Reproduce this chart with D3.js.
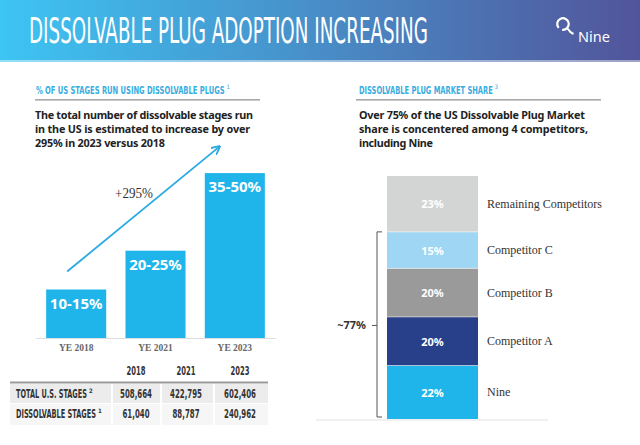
<!DOCTYPE html>
<html><head><meta charset="utf-8">
<script src="https://cdn.jsdelivr.net/npm/d3@7"></script>
<style>
html,body{margin:0;padding:0;background:#fff;}
svg{display:block;}
.cond{font-family:"DejaVu Sans Condensed","Liberation Sans Narrow","Roboto",sans-serif;font-stretch:condensed;}
.serif{font-family:"Liberation Serif","DejaVu Serif",serif;}
.sans{font-family:"Noto Sans","Lato",sans-serif;}
</style>
</head><body>
<script>
// ---- data ----
const title = "DISSOLVABLE PLUG ADOPTION INCREASING";
const leftHeading = "% OF US STAGES RUN USING DISSOLVABLE PLUGS";
const leftText = ["The total number of dissolvable stages run","in the US is estimated to increase by over","295% in 2023 versus 2018"];
const rightHeading = "DISSOLVABLE PLUG MARKET SHARE";
const rightText = ["Over 75% of the US Dissolvable Plug Market","share is concentered among 4 competitors,","including Nine"];

const barCategories = ["YE 2018","YE 2021","YE 2023"];
const barValues = [12.5, 22.5, 42.5];
const barLabels = ["10-15%","20-25%","35-50%"];
const growthLabel = "+295%";

const tableYears = ["2018","2021","2023"];
const tableRows = ["TOTAL U.S. STAGES","DISSOLVABLE STAGES"];
const tableRowSup = ["2","1"];
const totalStages = [508664, 422795, 602406];
const dissolvableStages = [61040, 88787, 240962];

const shareNames = ["Nine","Competitor A","Competitor B","Competitor C","Remaining Competitors"];
const shareValues = [22, 20, 20, 15, 23];
const shareColors = ["#20b5ea","#283f8a","#9a9a9a","#9fd6f3","#d3d4d4"];
const bracketLabel = "~77%";

// ---- layout ----
const W = 640, H = 445;
const svg = d3.select("body").append("svg").attr("width", W).attr("height", H);
const defs = svg.append("defs");

// draws a text squeezed horizontally to a target width
function fitText(parent, px, py, str, width, attrs){
  const t = parent.append("text").attr("x",0).attr("y",0);
  Object.entries(attrs).forEach(([k,v])=>t.attr(k,v));
  t.text(str);
  const w = t.node().getComputedTextLength() || width;
  t.attr("transform",`translate(${px},${py}) scale(${width/w},1)`);
  return t;
}

const grad = defs.append("linearGradient").attr("id","hdr").attr("x1","0").attr("x2","1").attr("y1","0").attr("y2","0");
grad.append("stop").attr("offset","0%").attr("stop-color","#3dc5f3");
grad.append("stop").attr("offset","45%").attr("stop-color","#4793cc");
grad.append("stop").attr("offset","100%").attr("stop-color","#52549a");

svg.append("rect").attr("x",0).attr("y",0).attr("width",W).attr("height",60).attr("fill","url(#hdr)");
svg.append("rect").attr("x",0).attr("y",60).attr("width",W).attr("height",2).attr("fill","url(#hdr)").attr("opacity",0.55);

fitText(svg, 29, 43, title, 399, {"class":"cond","font-size":35,"fill":"#fff"});

// logo
const logo = svg.append("g").attr("transform","translate(563,24)");
logo.append("path").attr("d", d3.arc()({innerRadius:4.7, outerRadius:6.9, startAngle:-2.3, endAngle:3.3}))
  .attr("fill","#fff");
logo.append("path").attr("d","M4.6,4.4 Q7,8.5 10.5,10").attr("stroke","#fff").attr("stroke-width",2).attr("fill","none");
svg.append("text").attr("class","sans").attr("x",578).attr("y",42).attr("font-size",14.5).attr("fill","#fff").text("Nine");

// section headings
function heading(x, y, txt, len, sup, ruleX1, ruleX2){
  fitText(svg, x, y, txt, len, {"class":"cond","font-size":10.5,"fill":"#39ade0","font-weight":"bold"});
  svg.append("text").attr("class","cond").attr("x",x+len+1.5).attr("y",y-5).attr("font-size",6).attr("fill","#39ade0").text(sup);
  svg.append("rect").attr("x",ruleX1).attr("y",99).attr("width",ruleX2-ruleX1).attr("height",1.6).attr("fill","#a8a8a8");
}
heading(36, 94, leftHeading, 189, "1", 35, 260);
heading(359, 94, rightHeading, 134, "3", 356, 601);

function para(x, lines, lens){
  lines.forEach((l,i)=>{
    svg.append("text").attr("class","sans").attr("x",x).attr("y",119+i*14)
      .attr("font-size",10.8).attr("font-weight","bold").attr("fill","#222")
      .attr("textLength",lens[i]).attr("lengthAdjust","spacing").text(l);
  });
}
para(35, leftText, [218,215,130]);
para(359, rightText, [226,229,74]);

// ---- bar chart ----
const x = d3.scaleBand().domain(barCategories).range([36,275]).paddingInner(0.243).paddingOuter(0.128);
const y = d3.scaleLinear().domain([0,50]).range([338,144]);

const gx = svg.append("g").attr("transform","translate(0,338)")
  .call(d3.axisBottom(x).tickSize(0).tickPadding(6).tickSizeOuter(0));
gx.select(".domain").attr("stroke","#dcdcdc");
gx.selectAll("text").attr("class","serif").attr("font-size",9.5).attr("fill","#666").attr("font-family",null).attr("font-weight","bold");

svg.selectAll(".bar").data(barValues).join("rect").attr("class","bar")
  .attr("x",(d,i)=>x(barCategories[i])).attr("width",x.bandwidth())
  .attr("y",d=>y(d)).attr("height",d=>y(0)-y(d)).attr("fill","#20b5ea");
svg.selectAll(".barlbl").data(barValues).join("text").attr("class","barlbl sans")
  .attr("x",(d,i)=>x(barCategories[i])+x.bandwidth()/2).attr("y",d=>y(d)+19)
  .attr("text-anchor","middle").attr("font-size",15).attr("font-weight","bold").attr("fill","#fff")
  .text((d,i)=>barLabels[i]);

// growth arrow
defs.append("marker").attr("id","arr").attr("viewBox","0 0 10 10").attr("refX",8).attr("refY",5)
  .attr("markerWidth",5).attr("markerHeight",5).attr("orient","auto")
  .append("path").attr("d","M0,0 L10,5 L0,10").attr("fill","none").attr("stroke","#2aa9e2").attr("stroke-width",2);
const first = barCategories[0], last = barCategories[barCategories.length-1];
svg.append("line")
  .attr("x1", x(first)+x.bandwidth()*0.35).attr("y1", y(barValues[0])-18)
  .attr("x2", x(last)+14).attr("y2", y(barValues[barValues.length-1])-26)
  .attr("stroke","#2aa9e2").attr("stroke-width",1.8).attr("marker-end","url(#arr)");
fitText(svg, 115, 198, growthLabel, 38, {"class":"serif","font-size":14.5,"fill":"#333"});

// ---- table ----
const colCenters = d3.scaleOrdinal().domain(tableYears).range([136,186,240]);
const colEdges = [[10,111],[113,160],[162,213],[215,268]];
const fmt = d3.format(",");
const numLen = s => s.length >= 7 ? 32 : 27;
tableYears.forEach(yr=>{
  fitText(svg, colCenters(yr), 375, yr, 19, {"class":"cond","font-size":12,"font-weight":"bold","fill":"#333","text-anchor":"middle"});
});
svg.append("rect").attr("x",10).attr("y",381.5).attr("width",258).attr("height",2).attr("fill","#9a9a9a");
const rowY = [384,404], rowH = [19,21], rowFill = ["#ececec","#f6f6f6"];
const rowVals = [totalStages, dissolvableStages];
const rowLabelLen = [71, 80];
tableRows.forEach((r,ri)=>{
  colEdges.forEach(c=>{
    svg.append("rect").attr("x",c[0]).attr("y",rowY[ri]).attr("width",c[1]-c[0]).attr("height",rowH[ri]).attr("fill",rowFill[ri]);
  });
  fitText(svg, 16, rowY[ri]+14, r, rowLabelLen[ri], {"class":"cond","font-size":11.5,"font-weight":"bold","fill":"#333"});
  svg.append("text").attr("class","cond").attr("x",16+rowLabelLen[ri]+2).attr("y",rowY[ri]+8.5)
    .attr("font-size",6).attr("font-weight","bold").attr("fill","#333").text(tableRowSup[ri]);
  tableYears.forEach((yr,ci)=>{
    const str = fmt(rowVals[ri][ci]);
    fitText(svg, colCenters(yr), rowY[ri]+14, str, numLen(str), {"class":"cond","font-size":12,"font-weight":"bold","fill":"#333","text-anchor":"middle"});
  });
});

// ---- stacked share bar ----
const s = d3.scaleLinear().domain([0,100]).range([419,176]);
let cum = 0;
const segs = shareValues.map((v,i)=>{ const o = {name:shareNames[i], v, y0:cum, y1:cum+v, color:shareColors[i]}; cum += v; return o; });
svg.append("line").attr("x1",316).attr("x2",548).attr("y1",420).attr("y2",420).attr("stroke","#e2e2e2").attr("stroke-width",1);
svg.selectAll(".seg").data(segs).join("rect").attr("class","seg")
  .attr("x",387).attr("width",91).attr("y",d=>s(d.y1)).attr("height",d=>s(d.y0)-s(d.y1))
  .attr("fill",d=>d.color);
svg.selectAll(".segline").data(segs.slice(1)).join("line").attr("class","segline")
  .attr("x1",387).attr("x2",478).attr("y1",d=>s(d.y0)).attr("y2",d=>s(d.y0))
  .attr("stroke","#ffffff").attr("stroke-opacity",0.5).attr("stroke-width",1);
svg.selectAll(".seglbl").data(segs).join("text").attr("class","seglbl sans")
  .attr("x",432.5).attr("y",d=>(s(d.y0)+s(d.y1))/2+4.5).attr("text-anchor","middle")
  .attr("font-size",11).attr("font-weight","bold").attr("fill","#fff").text(d=>d.v+"%");
svg.selectAll(".segname").data(segs).join("text").attr("class","segname serif")
  .attr("x",487).attr("y",d=>(s(d.y0)+s(d.y1))/2+4).attr("font-size",12).attr("fill","#333").text(d=>d.name);

// bracket around the four named competitors
const bTop = s(segs[3].y1), bBot = s(0);
const bx = 377;
svg.append("path").attr("d",`M${bx+5},${bTop} H${bx} V${bBot-2} H${bx+5}`)
  .attr("fill","none").attr("stroke","#555").attr("stroke-width",1);
const bMid = (bTop+bBot)/2;
svg.append("line").attr("x1",bx-5).attr("x2",bx).attr("y1",bMid).attr("y2",bMid).attr("stroke","#555").attr("stroke-width",1);
svg.append("text").attr("class","sans").attr("x",366).attr("y",bMid+4).attr("text-anchor","end")
  .attr("font-size",11).attr("font-weight","bold").attr("fill","#333").text(bracketLabel);
</script>
</body></html>
